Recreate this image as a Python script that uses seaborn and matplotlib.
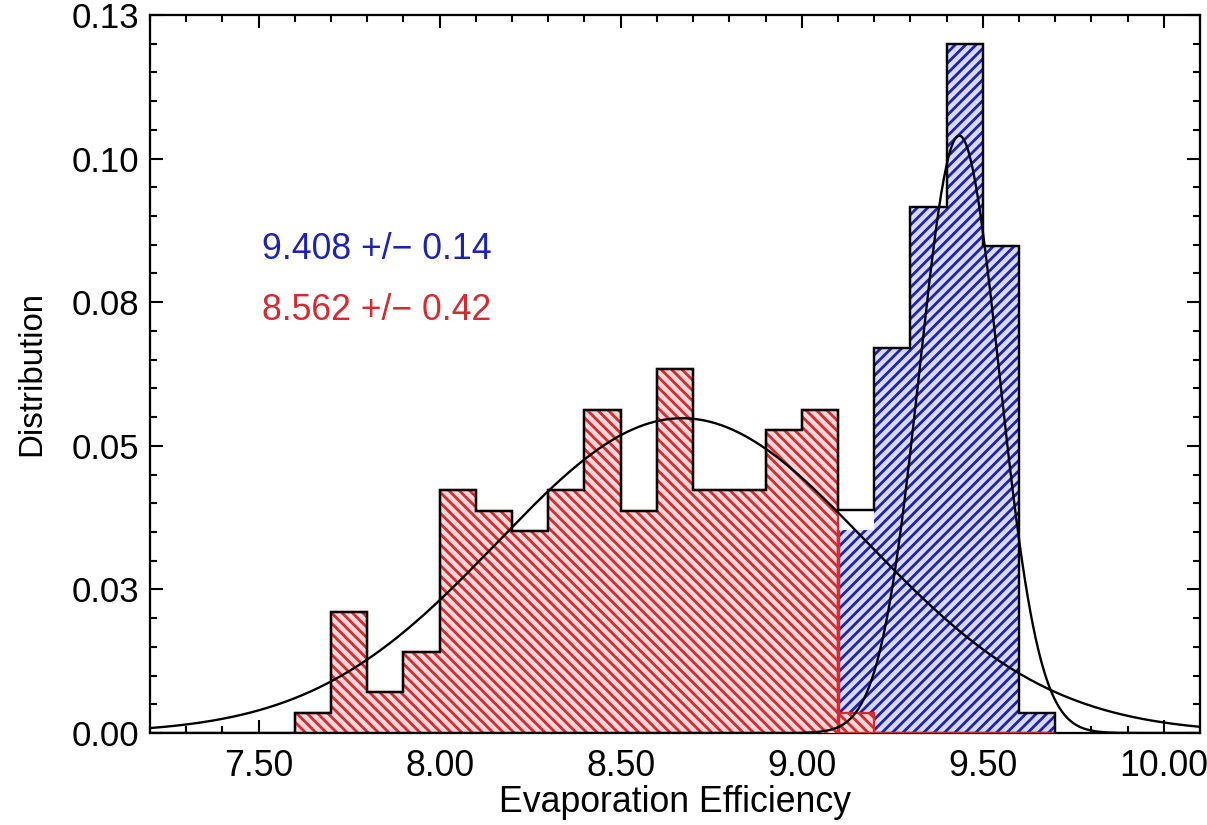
import numpy as np
import pandas as pd
import matplotlib
matplotlib.use("Agg")
import matplotlib.pyplot as plt
from matplotlib.ticker import MultipleLocator, FixedLocator
import seaborn as sns

# ---------------- data ----------------
bin_width = 0.1
red_start = 7.6
red_values = [0.0035, 0.0211, 0.0071, 0.0141, 0.0423, 0.0387, 0.0352, 0.0423,
              0.0563, 0.0387, 0.0634, 0.0423, 0.0423, 0.0528, 0.0563, 0.0035]
blue_start = 9.1
blue_values = [0.0353, 0.0670, 0.0915, 0.1200, 0.0847, 0.0035]

# gaussian fit curves (centre, width, peak)
red_fit = [8.67, 0.51, 0.0548]
blue_fit = [9.435, 0.11, 0.104]

blue_label = "9.408 +/\u2212 0.14"
red_label = "8.562 +/\u2212 0.42"

x_ticks = [7.5, 8.0, 8.5, 9.0, 9.5, 10.0]
x_tick_labels = ["7.50", "8.00", "8.50", "9.00", "9.50", "10.00"]
y_ticks = [0.0, 0.025, 0.05, 0.075, 0.1, 0.125]
y_tick_labels = ["0.00", "0.03", "0.05", "0.08", "0.10", "0.13"]
x_label = "Evaporation Efficiency"
y_label = "Distribution"

# ---------------- style ----------------
sns.set_style("ticks")
DPI = 125
plt.rcParams["font.family"] = ["Liberation Sans", "DejaVu Sans"]
plt.rcParams["text.color"] = "black"
plt.rcParams["axes.labelcolor"] = "black"
plt.rcParams["xtick.color"] = "black"
plt.rcParams["ytick.color"] = "black"
plt.rcParams["hatch.linewidth"] = 1.6

RED = "#d42a30"
BLUE = "#1e22b0"
RED_BG = "#f7d8d8"
BLUE_BG = "#d8daf6"

fig = plt.figure(figsize=(1207 / DPI, 825 / DPI), dpi=DPI)
ax = fig.add_axes([150 / 1207, 1 - 733 / 825, 1050 / 1207, 718 / 825])

red_edges = red_start + bin_width * np.arange(len(red_values) + 1)
blue_edges = blue_start + bin_width * np.arange(len(blue_values) + 1)
red_df = pd.DataFrame({"x": red_edges[:-1] + bin_width / 2, "w": red_values})
blue_df = pd.DataFrame({"x": blue_edges[:-1] + bin_width / 2, "w": blue_values})

# hatched histograms
sns.histplot(data=blue_df, x="x", weights="w", bins=list(blue_edges), element="bars",
             fill=True, facecolor=BLUE_BG, edgecolor=BLUE, linewidth=0,
             hatch="////", ax=ax, zorder=2)
sns.histplot(data=red_df, x="x", weights="w", bins=list(red_edges), element="bars",
             fill=True, facecolor=RED_BG, edgecolor=RED, linewidth=0,
             hatch="\\\\\\\\", ax=ax, zorder=3)

# red outline of red histogram and red border of blue region
ax.stairs(red_values, red_edges, baseline=0, color=RED, lw=1.3, zorder=4)
ax.plot([blue_edges[0], blue_edges[0], blue_edges[-1]],
        [blue_values[0], 0, 0], color=RED, lw=2.0, zorder=4,
        solid_capstyle="butt")

# black outline of the combined histogram
all_edges = red_start + bin_width * np.arange(
    int(round((blue_edges[-1] - red_start) / bin_width)) + 1)
total = np.zeros(len(all_edges) - 1)
total[:len(red_values)] += red_values
off = int(round((blue_start - red_start) / bin_width))
total[off:off + len(blue_values)] += blue_values
ax.stairs(total, all_edges, baseline=0, color="black", lw=1.4, zorder=5)

# gaussian fits
xs = np.linspace(7.2, 10.1, 800)
for mu, sig, amp in (red_fit, blue_fit):
    fit_df = pd.DataFrame({"x": xs, "y": amp * np.exp(-0.5 * ((xs - mu) / sig) ** 2)})
    sns.lineplot(data=fit_df, x="x", y="y", color="black", lw=1.35, ax=ax,
                 zorder=6, sort=False)

# annotations
ax.text(7.508, 0.0841, blue_label, color=BLUE, fontsize=20.5, va="center",
        ha="left", zorder=7)
ax.text(7.508, 0.0736, red_label, color=RED, fontsize=20.5, va="center",
        ha="left", zorder=7)

# axes
ax.set_xlim(7.2, 10.1)
ax.set_ylim(0, 0.125)
ax.xaxis.set_major_locator(FixedLocator(x_ticks))
ax.xaxis.set_minor_locator(MultipleLocator(0.1))
ax.yaxis.set_major_locator(FixedLocator(y_ticks))
ax.yaxis.set_minor_locator(MultipleLocator(0.005))
ax.set_xticklabels(x_tick_labels, fontsize=20.5)
ax.set_yticklabels(y_tick_labels, fontsize=20)
ax.tick_params(which="both", direction="in", top=True, right=True,
               width=1.2, color="black")
ax.tick_params(which="major", length=7.5)
ax.tick_params(which="minor", length=3.8)
ax.tick_params(axis="x", which="major", pad=9)
ax.tick_params(axis="y", which="major", pad=6)
for s in ax.spines.values():
    s.set_linewidth(1.3)
    s.set_color("black")
ax.set_xlabel(x_label, fontsize=20.5, labelpad=1)
ax.set_ylabel(y_label, fontsize=19, labelpad=14)
ax.grid(False)

fig.savefig("out.png", dpi=DPI)
